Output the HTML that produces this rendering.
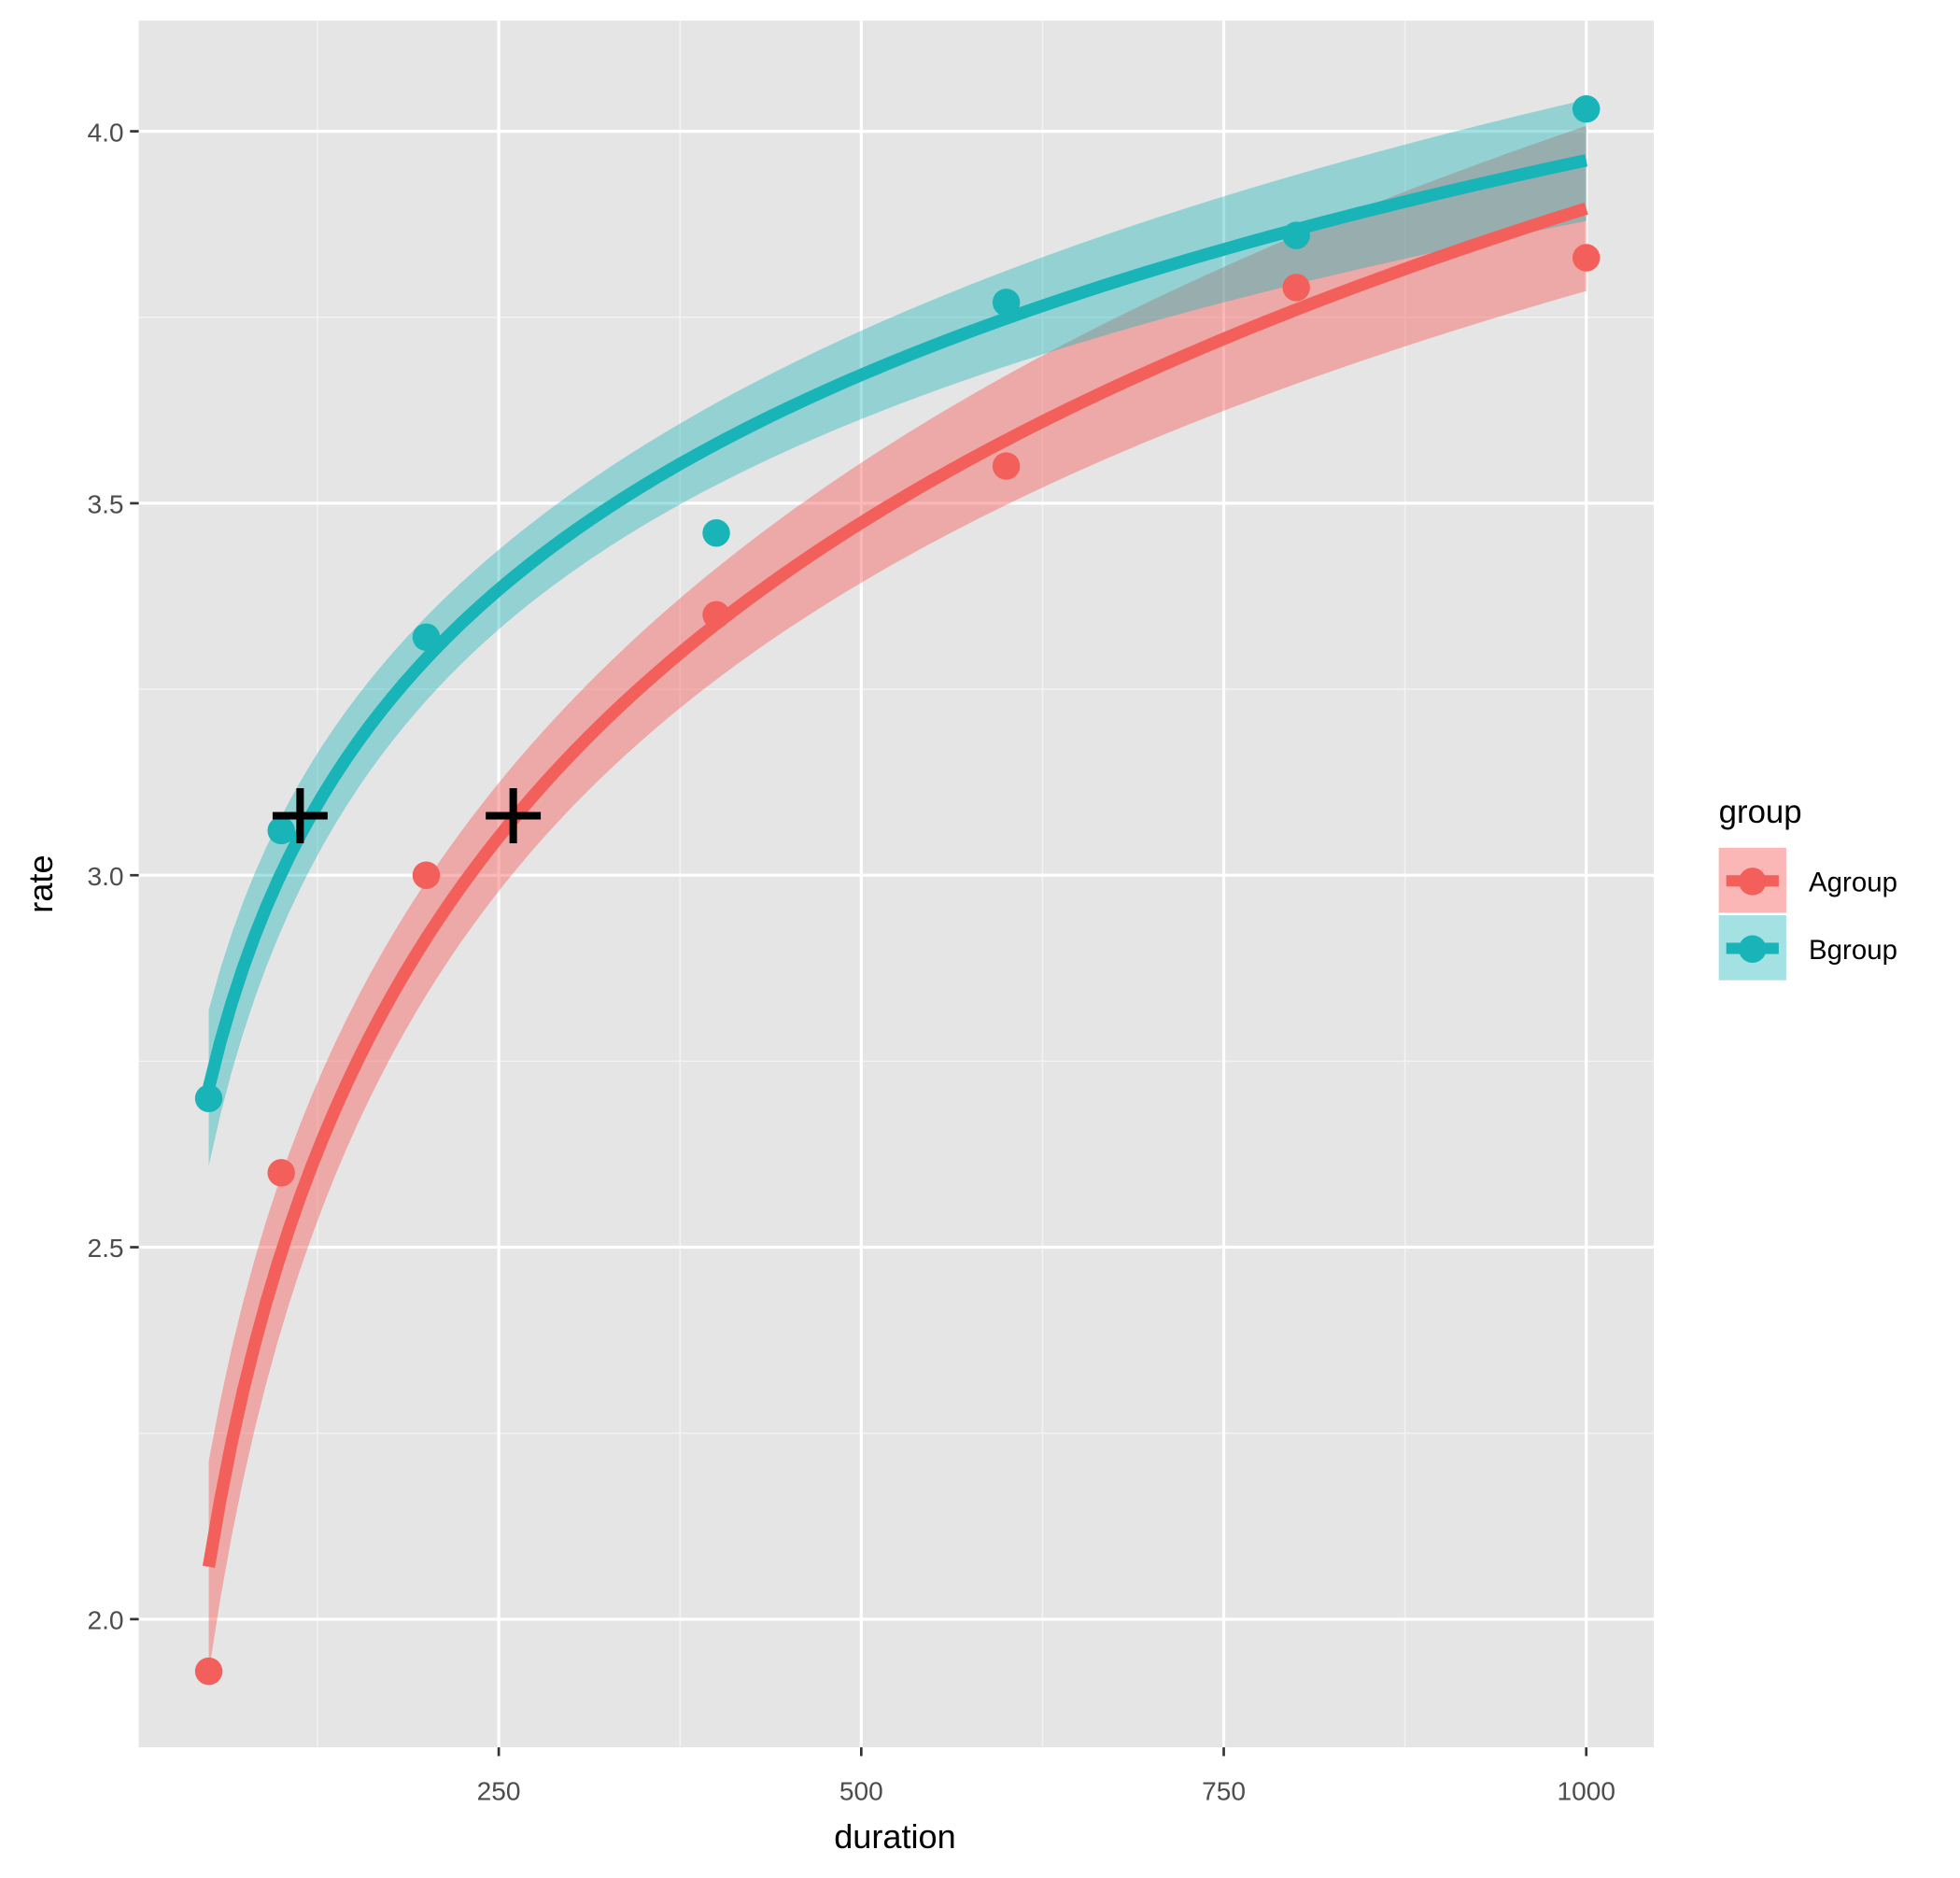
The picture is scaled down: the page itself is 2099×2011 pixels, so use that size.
<!DOCTYPE html>
<html><head><meta charset="utf-8"><style>
html,body{margin:0;padding:0;background:#fff;}
svg{display:block;font-family:"Liberation Sans",sans-serif;}
</style></head><body>
<svg id="chart" width="2099" height="2011" viewBox="0 0 1568 1502" preserveAspectRatio="none" xmlns="http://www.w3.org/2000/svg">
<rect x="0" y="0" width="1568" height="1502" fill="#fff"/>
<rect x="111" y="16.5" width="1212" height="1381" fill="#e5e5e5"/>
<g id="grid"></g>
<g id="ribbons"></g>
<g id="lines"></g>
<g id="points"></g>
<g id="crosses"></g>
<g id="axes"></g>
<text x="716" y="1478" font-size="27" text-anchor="middle" fill="#000">duration</text>
<text x="0" y="0" font-size="27" text-anchor="middle" fill="#000" transform="translate(42,707) rotate(-90)">rate</text>
<g>
<text x="1375" y="658" font-size="26" fill="#000">group</text>
<g>
<rect x="1375" y="678" width="54" height="52" fill="#F35F5A" fill-opacity="0.45"/>
<rect x="1381" y="700" width="42" height="9" fill="#F35F5A"/>
<circle cx="1402" cy="705" r="11" fill="#F35F5A"/>
<text x="1447" y="713" font-size="22" fill="#000">Agroup</text>
</g>
<g>
<rect x="1375" y="732" width="54" height="52" fill="#19b4b8" fill-opacity="0.4"/>
<rect x="1381" y="754" width="42" height="9" fill="#19b4b8"/>
<circle cx="1402" cy="759" r="11" fill="#19b4b8"/>
<text x="1447" y="767" font-size="22" fill="#000">Bgroup</text>
</g>
</g>
</svg>
<script>
const durations = [50,100,200,400,600,800,1000];
const rateA = [1.93,2.60,3.00,3.35,3.55,3.79,3.83];
const rateB = [2.70,3.06,3.32,3.46,3.77,3.86,4.03];
const groups = ["Agroup","Bgroup"];
const fitIntercept = [-0.314,1.086];
const fitSlope = [0.6095,0.4162];
const ciScale = [0.19,0.14];
const crossX = [113,260];
const crossY = [3.08,3.08];
const xTicks = [250,500,750,1000];
const xTickLabels = ["250","500","750","1000"];
const yTicks = [2.0,2.5,3.0,3.5,4.0];
const yTickLabels = ["2.0","2.5","3.0","3.5","4.0"];
const xMinor = [125,375,625,875];
const yMinor = [2.25,2.75,3.25,3.75];

const NS="http://www.w3.org/2000/svg";
const PL=111,PR=1323,PT=16.5,PB=1397.5;
function sx(v){return 399+(v-250)*(1269-399)/750;}
function sy(v){return 1295-(v-2.0)*(1295-105)/2.0;}
function mk(tag,attrs,parent){const e=document.createElementNS(NS,tag);for(const k in attrs)e.setAttribute(k,attrs[k]);parent.appendChild(e);return e;}
const grid=document.getElementById('grid');
xMinor.forEach(v=>{const l=mk('line',{x1:sx(v),x2:sx(v),y1:PT,y2:PB,stroke:'#f2f2f2','stroke-width':1.2},grid);

});
yMinor.forEach(v=>{const l=mk('line',{x1:PL,x2:PR,y1:sy(v),y2:sy(v),stroke:'#f2f2f2','stroke-width':1.2},grid);

});
xTicks.forEach(v=>{const l=mk('line',{x1:sx(v),x2:sx(v),y1:PT,y2:PB,stroke:'#fff','stroke-width':2.4},grid);

});
yTicks.forEach(v=>{const l=mk('line',{x1:PL,x2:PR,y1:sy(v),y2:sy(v),stroke:'#fff','stroke-width':2.4},grid);

});

const axes=document.getElementById('axes');
xTicks.forEach((v,i)=>{const t=mk('line',{x1:sx(v),x2:sx(v),y1:PB,y2:PB+7,stroke:'#333','stroke-width':2},axes);


const tx=mk('text',{x:sx(v),y:PB+42,'font-size':21,'text-anchor':'middle',fill:'#4d4d4d'},axes);
tx.textContent=xTickLabels[i];

});
yTicks.forEach((v,i)=>{const t=mk('line',{x1:PL-7,x2:PL,y1:sy(v),y2:sy(v),stroke:'#333','stroke-width':2},axes);


const tx=mk('text',{x:PL-12,y:sy(v)+8,'font-size':21,'text-anchor':'end',fill:'#4d4d4d'},axes);
tx.textContent=yTickLabels[i];

});

const lx=durations.map(Math.log);
const mean=lx.reduce((a,b)=>a+b,0)/lx.length;
const sxx=lx.reduce((a,b)=>a+(b-mean)*(b-mean),0);
const fills=["#F35F5A","#19b4b8"];
const lineCols=["#F35F5A","#19b4b8"];
const opac=[0.45,0.4];
const ribbons=document.getElementById('ribbons'),lines=document.getElementById('lines'),pts=document.getElementById('points');
[0,1].forEach(g=>{
  const xs=[];for(let i=0;i<=120;i++){xs.push(durations[0]+(durations[durations.length-1]-durations[0])*i/120);}
  const fit=x=>fitIntercept[g]+fitSlope[g]*Math.log(x);
  const half=x=>ciScale[g]*Math.sqrt(1/lx.length+Math.pow(Math.log(x)-mean,2)/sxx);
  let up=xs.map(x=>sx(x)+','+sy(fit(x)+half(x)));
  let lo=xs.slice().reverse().map(x=>sx(x)+','+sy(fit(x)-half(x)));
  const r=mk('polygon',{points:up.concat(lo).join(' '),fill:fills[g],'fill-opacity':opac[g]},ribbons);
  
  
  const p=mk('polyline',{points:xs.map(x=>sx(x)+','+sy(fit(x))).join(' '),fill:'none',stroke:lineCols[g],'stroke-width':10},lines);
  
  
});
[rateA,rateB].forEach((arr,g)=>{arr.forEach((v,i)=>{
  const c=mk('circle',{cx:sx(durations[i]),cy:sy(v),r:11,fill:lineCols[g]},pts);
  
  
});});
const cr=document.getElementById('crosses');
crossX.forEach((v,i)=>{const X=sx(v),Y=sy(crossY[i]);
  const p=mk('path',{d:`M${X-22},${Y}H${X+22}M${X},${Y-22}V${Y+22}`,stroke:'#000','stroke-width':6},cr);
  
  });
</script>
</body></html>
